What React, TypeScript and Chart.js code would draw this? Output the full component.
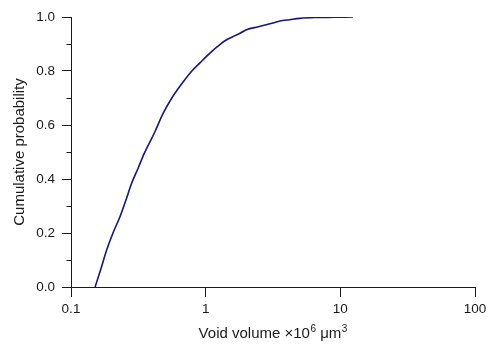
import React, { useEffect, useRef } from "react";
import { Chart, registerables } from "chart.js";

Chart.register(...registerables);

// Empirical cumulative distribution of void volume (×10^6 µm^3)
const voidVolume = [
  0.151, 0.165, 0.184, 0.205, 0.231, 0.255, 0.282, 0.315, 0.35, 0.42,
  0.48, 0.559, 0.682, 0.79, 0.907, 1.076, 1.22, 1.39, 1.6, 1.8, 2.01,
  2.46, 3.16, 3.56, 4.2, 5.0, 6.5, 9.0, 12.4,
];
const cumulativeProbability = [
  0, 0.06, 0.137, 0.2, 0.26, 0.32, 0.384, 0.44, 0.495, 0.575,
  0.64, 0.699, 0.76, 0.8, 0.83, 0.866, 0.89, 0.912, 0.928, 0.94, 0.953,
  0.964, 0.978, 0.985, 0.99, 0.995, 0.998, 0.999, 1.0,
];

const xTicks = [0.1, 1, 10, 100];
const yMinorTicks = [0.1, 0.3, 0.5, 0.7, 0.9];

const FONT = "'Liberation Sans', Arial, Helvetica, sans-serif";
const INK = "#1a1a1a";
const TITLE_SIZE = 15;
const SUP_SIZE = 10;

// Minor (unlabelled) y ticks, shorter than the major ones
const minorTickPlugin = {
  id: "minorTicks",
  afterDraw(chart: any) {
    const yScale = chart.scales.y;
    const ctx = chart.ctx;
    const x0 = chart.chartArea.left;
    ctx.save();
    ctx.strokeStyle = INK;
    ctx.lineWidth = 1;
    ctx.beginPath();
    for (const v of yMinorTicks) {
      const py = Math.round(yScale.getPixelForValue(v)) + 0.5;
      ctx.moveTo(x0 - 4.5, py);
      ctx.lineTo(x0, py);
    }
    ctx.stroke();
    ctx.restore();
  },
};

// X axis title with real superscripts: "Void volume ×10^6 µm^3"
const xTitleParts: { text: string; sup: boolean }[] = [
  { text: "Void volume ×10", sup: false },
  { text: "6", sup: true },
  { text: " μm", sup: false },
  { text: "3", sup: true },
];

const xTitlePlugin = {
  id: "xTitle",
  afterDraw(chart: any) {
    const ctx = chart.ctx;
    const { left, right } = chart.chartArea;
    const baseline = 338;
    ctx.save();
    ctx.fillStyle = INK;
    ctx.textBaseline = "alphabetic";
    ctx.textAlign = "left";
    const fontFor = (sup: boolean) => `${sup ? SUP_SIZE : TITLE_SIZE}px ${FONT}`;
    let total = 0;
    const widths = xTitleParts.map((p) => {
      ctx.font = fontFor(p.sup);
      const w = ctx.measureText(p.text).width + (p.sup ? 0.5 : 0);
      total += w;
      return w;
    });
    let x = (left + right) / 2 - total / 2;
    xTitleParts.forEach((p, i) => {
      ctx.font = fontFor(p.sup);
      ctx.fillText(p.text, x + (p.sup ? 0.5 : 0), p.sup ? baseline - 6 : baseline);
      x += widths[i];
    });
    ctx.restore();
  },
};

export default function App() {
  const canvasRef = useRef<HTMLCanvasElement | null>(null);

  useEffect(() => {
    if (!canvasRef.current) return;
    const points = voidVolume.map((x, i) => ({ x, y: cumulativeProbability[i] }));
    const chart = new Chart(canvasRef.current, {
      type: "scatter",
      data: {
        datasets: [
          {
            data: points,
            showLine: true,
            borderColor: "#15158a",
            borderWidth: 1.6,
            pointRadius: 0,
            tension: 0.2,
            cubicInterpolationMode: "monotone",
          },
        ],
      },
      plugins: [minorTickPlugin, xTitlePlugin],
      options: {
        animation: false,
        responsive: false,
        devicePixelRatio: 1,
        layout: { padding: { left: 0, right: 21, top: 17, bottom: 0 } },
        plugins: {
          legend: { display: false },
          tooltip: { enabled: false },
        },
        scales: {
          x: {
            type: "logarithmic",
            min: 0.1,
            max: 100,
            afterBuildTicks: (scale: any) => {
              scale.ticks = xTicks.map((v) => ({ value: v }));
            },
            afterFit: (scale: any) => {
              scale.height = 63;
            },
            grid: {
              drawOnChartArea: false,
              drawTicks: true,
              tickLength: 10,
              color: INK,
              lineWidth: 1,
            },
            border: { display: true, color: INK, width: 1 },
            ticks: {
              color: INK,
              font: { family: FONT, size: 13.5 },
              padding: 4,
              maxRotation: 0,
              autoSkip: false,
              callback: (v: any) => String(v),
            },
            title: { display: false },
          },
          y: {
            min: 0,
            max: 1,
            afterFit: (scale: any) => {
              scale.width = 71;
            },
            grid: {
              drawOnChartArea: false,
              drawTicks: true,
              tickLength: 9,
              color: INK,
              lineWidth: 1,
            },
            border: { display: true, color: INK, width: 1 },
            ticks: {
              stepSize: 0.2,
              color: INK,
              font: { family: FONT, size: 13.5 },
              padding: 7,
              callback: (v: any) => Number(v).toFixed(1),
            },
            title: {
              display: true,
              text: "Cumulative probability",
              color: INK,
              font: { family: FONT, size: TITLE_SIZE },
              padding: { top: 11, bottom: 0 },
            },
          },
        },
      },
    });
    return () => chart.destroy();
  }, []);

  return (
    <canvas
      ref={canvasRef}
      width={496}
      height={350}
      style={{ position: "fixed", left: 0, top: 0, display: "block", background: "#fff" }}
    />
  );
}
